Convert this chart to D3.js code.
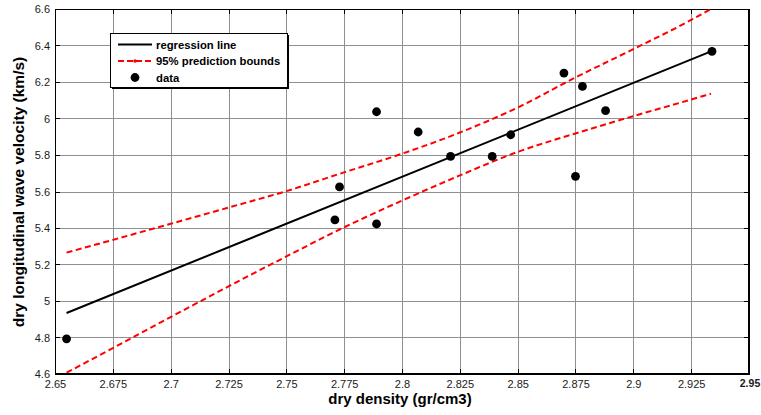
<!DOCTYPE html>
<html>
<head>
<meta charset="utf-8">
<script src="https://cdn.jsdelivr.net/npm/d3@7/dist/d3.min.js"></script>
<style>
  html, body { margin: 0; padding: 0; background: #fff; }
  svg { display: block; font-family: "Liberation Sans", Arial, sans-serif; }
</style>
</head>
<body>
<svg id="chart" width="761" height="415"></svg>
<script>
// Measured samples: dry density (gr/cm3) vs dry longitudinal wave velocity (km/s)
const density  = [2.655, 2.771, 2.789, 2.773, 2.789, 2.807, 2.821, 2.839, 2.847, 2.870, 2.875, 2.878, 2.888, 2.934];
const velocity = [4.793, 5.445, 5.422, 5.625, 6.037, 5.926, 5.792, 5.792, 5.911, 6.249, 5.683, 6.176, 6.043, 6.368];

// Fitted regression line (end points)
const regX = [2.655, 2.9336];
const regY = [4.934, 6.368];

// 95% prediction bounds, sampled along the density range
const boundX     = [2.655, 2.675, 2.7, 2.725, 2.75, 2.775, 2.8, 2.825, 2.85, 2.875, 2.9, 2.925, 2.9336];
const boundUpper = [5.265, 5.335, 5.423, 5.512, 5.602, 5.705, 5.807, 5.923, 6.06, 6.225, 6.38, 6.54, 6.60];
const boundLower = [4.607, 4.742, 4.912, 5.08, 5.244, 5.404, 5.55, 5.688, 5.817, 5.918, 6.013, 6.104, 6.136];

// Axis ticks and their labels
const xTicks = [2.65, 2.675, 2.7, 2.725, 2.75, 2.775, 2.8, 2.825, 2.85, 2.875, 2.9, 2.925, 2.95];
const xTickLabels = ["2.65", "2.675", "2.7", "2.725", "2.75", "2.775", "2.8", "2.825", "2.85", "2.875", "2.9", "2.925", "2.95"];
const yTicks = [4.6, 4.8, 5, 5.2, 5.4, 5.6, 5.8, 6, 6.2, 6.4, 6.6];
const yTickLabels = ["4.6", "4.8", "5", "5.2", "5.4", "5.6", "5.8", "6", "6.2", "6.4", "6.6"];

const legendLabels = ["regression line", "95% prediction bounds", "data"];

const plot = { left: 55, right: 749, top: 9, bottom: 374 };

const svg = d3.select("#chart");

const x = d3.scaleLinear().domain([2.65, 2.95]).range([plot.left, plot.right]);
const y = d3.scaleLinear().domain([4.6, 6.6]).range([plot.bottom, plot.top]);

// Grid
const grid = svg.append("g").attr("stroke", "#8f8f8f").attr("stroke-width", 1);
grid.selectAll("line.gx").data(xTicks).join("line")
  .attr("x1", d => Math.round(x(d)) + 0.5).attr("x2", d => Math.round(x(d)) + 0.5)
  .attr("y1", plot.top).attr("y2", plot.bottom);
grid.selectAll("line.gy").data(yTicks).join("line")
  .attr("y1", d => Math.round(y(d)) + 0.5).attr("y2", d => Math.round(y(d)) + 0.5)
  .attr("x1", plot.left).attr("x2", plot.right);

// Axes: tick labels come from d3 axes, tick marks point inward on all four sides
const lastX = xTicks.length - 1;
const xAxis = svg.append("g")
  .attr("transform", `translate(0,${plot.bottom})`)
  .call(d3.axisBottom(x).tickValues(xTicks).tickFormat((d, i) => xTickLabels[i]).tickSize(0).tickPadding(6));
xAxis.select(".domain").remove();
xAxis.selectAll("text").attr("font-size", 11).attr("fill", "#1a1a1a")
  .attr("font-family", "'Liberation Sans', Arial, sans-serif");
// the right-most label sits against the figure edge, drawn heavier
xAxis.selectAll("text").filter((d, i) => i === lastX)
  .attr("font-weight", "bold").attr("font-size", 10.5).attr("dx", 0.5);

const yAxis = svg.append("g")
  .attr("transform", `translate(${plot.left},0)`)
  .call(d3.axisLeft(y).tickValues(yTicks).tickFormat((d, i) => yTickLabels[i]).tickSize(0).tickPadding(5));
yAxis.select(".domain").remove();
yAxis.selectAll("text").attr("font-size", 11).attr("fill", "#1a1a1a")
  .attr("font-family", "'Liberation Sans', Arial, sans-serif");

const ticks = svg.append("g").attr("stroke", "#000").attr("stroke-width", 1);
xTicks.forEach(t => {
  const px = Math.round(x(t)) + 0.5;
  ticks.append("line").attr("x1", px).attr("x2", px).attr("y1", plot.bottom).attr("y2", plot.bottom - 5);
  ticks.append("line").attr("x1", px).attr("x2", px).attr("y1", plot.top).attr("y2", plot.top + 5);
});
yTicks.forEach(t => {
  const py = Math.round(y(t)) + 0.5;
  ticks.append("line").attr("y1", py).attr("y2", py).attr("x1", plot.left).attr("x2", plot.left + 5);
  ticks.append("line").attr("y1", py).attr("y2", py).attr("x1", plot.right).attr("x2", plot.right - 5);
});

// Axes box
svg.append("line").attr("x1", plot.left + 0.5).attr("x2", plot.left + 0.5).attr("y1", plot.top).attr("y2", plot.bottom).attr("stroke", "#000");
svg.append("line").attr("x1", plot.left).attr("x2", plot.right).attr("y1", plot.top + 0.5).attr("y2", plot.top + 0.5).attr("stroke", "#000");
svg.append("line").attr("x1", plot.left).attr("x2", plot.right + 1).attr("y1", plot.bottom).attr("y2", plot.bottom).attr("stroke", "#000").attr("stroke-width", 2);
svg.append("line").attr("x1", plot.right).attr("x2", plot.right).attr("y1", plot.top).attr("y2", plot.bottom + 1).attr("stroke", "#000").attr("stroke-width", 2);

// Prediction bounds
const boundLine = d3.line().curve(d3.curveMonotoneX).x(d => x(d[0])).y(d => y(d[1]));
[boundUpper, boundLower].forEach(series => {
  svg.append("path")
    .datum(boundX.map((bx, i) => [bx, series[i]]))
    .attr("d", boundLine)
    .attr("fill", "none").attr("stroke", "#ff0000").attr("stroke-width", 2)
    .attr("stroke-dasharray", "6,3.5");
});

// Regression line
svg.append("path")
  .datum(regX.map((rx, i) => [rx, regY[i]]))
  .attr("d", d3.line().x(d => x(d[0])).y(d => y(d[1])))
  .attr("fill", "none").attr("stroke", "#000").attr("stroke-width", 2);

// Data points
svg.append("g").selectAll("circle")
  .data(density.map((d, i) => [d, velocity[i]]))
  .join("circle")
  .attr("cx", d => x(d[0])).attr("cy", d => y(d[1])).attr("r", 4.4).attr("fill", "#000");

// Legend
const lg = svg.append("g");
lg.append("rect").attr("x", 110.5).attr("y", 33.5).attr("width", 177).attr("height", 54)
  .attr("fill", "#fff").attr("stroke", "#000").attr("stroke-width", 1);
lg.append("line").attr("x1", 288.5).attr("x2", 288.5).attr("y1", 35).attr("y2", 89).attr("stroke", "#000");
lg.append("line").attr("x1", 112).attr("x2", 289).attr("y1", 88.5).attr("y2", 88.5).attr("stroke", "#000");

const rowY = [44.5, 61, 77.5];
lg.append("line").attr("x1", 118).attr("x2", 152).attr("y1", rowY[0]).attr("y2", rowY[0])
  .attr("stroke", "#000").attr("stroke-width", 2);
lg.append("line").attr("x1", 118).attr("x2", 152).attr("y1", rowY[1]).attr("y2", rowY[1])
  .attr("stroke", "#ff0000").attr("stroke-width", 2).attr("stroke-dasharray", "6,3");
lg.append("circle").attr("cx", 135).attr("cy", rowY[1]).attr("r", 1.8).attr("fill", "#ff0000");
lg.append("circle").attr("cx", 135).attr("cy", rowY[2]).attr("r", 4.4).attr("fill", "#000");
lg.selectAll("text.lab").data(legendLabels).join("text")
  .attr("x", 156).attr("y", (d, i) => rowY[i] + 4)
  .attr("font-size", 11.3).attr("font-weight", "bold").attr("fill", "#000")
  .text(d => d);

// Axis titles
svg.append("text").attr("x", 400).attr("y", 404).attr("text-anchor", "middle")
  .attr("font-size", 15).attr("font-weight", "bold").attr("fill", "#000")
  .text("dry density (gr/cm3)");
svg.append("text").attr("transform", "translate(24,192) rotate(-90)").attr("text-anchor", "middle")
  .attr("font-size", 15.5).attr("font-weight", "bold").attr("fill", "#000")
  .text("dry longitudinal wave velocity (km/s)");
</script>
</body>
</html>
